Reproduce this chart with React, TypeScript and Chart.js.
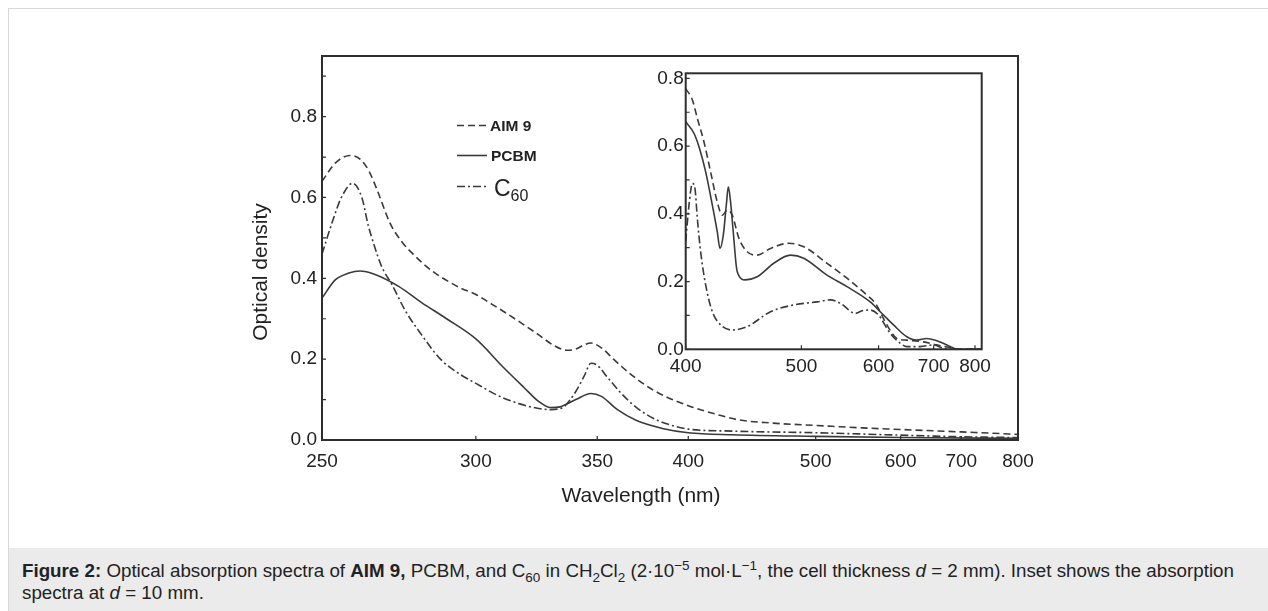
import React, { useEffect, useRef } from "react";
import { Chart, registerables } from "chart.js";
Chart.register(...registerables);

// ---------- Main plot data (wavelength in nm, optical density) ----------
const AIM9_NM = [254, 257.4, 261.3, 264, 266.5, 268.7, 272.5, 276, 280, 285, 290, 295, 300, 306, 312, 318, 324, 330, 336, 340, 344, 347, 352, 358, 365, 375, 385, 400, 420, 434, 460, 500, 550, 600, 700, 829];
const AIM9_OD = [0.64, 0.685, 0.704, 0.695, 0.665, 0.62, 0.536, 0.49, 0.455, 0.42, 0.395, 0.375, 0.36, 0.335, 0.31, 0.285, 0.26, 0.235, 0.222, 0.225, 0.236, 0.24, 0.228, 0.2, 0.17, 0.135, 0.11, 0.085, 0.062, 0.05, 0.042, 0.036, 0.03, 0.026, 0.02, 0.014];

const PCBM_NM = [254, 257.4, 261, 264, 268, 275, 282, 290, 300, 310, 318, 324, 329, 333, 340, 347, 352, 360, 370, 385, 400, 430, 500, 600, 829];
const PCBM_OD = [0.351, 0.396, 0.413, 0.418, 0.41, 0.38, 0.34, 0.3, 0.25, 0.18, 0.13, 0.095, 0.08, 0.082, 0.1, 0.115, 0.108, 0.075, 0.048, 0.028, 0.018, 0.013, 0.009, 0.006, 0.004];

const C60_NM = [254, 257, 259, 262, 264.5, 266.3, 268, 270, 273, 277, 282, 288, 294, 300, 308, 316, 324, 329, 334, 340, 344, 347, 350, 355, 362, 370, 380, 390, 400, 430, 500, 600, 700, 829];
const C60_OD = [0.46, 0.55, 0.6, 0.635, 0.6, 0.53, 0.48, 0.43, 0.385, 0.32, 0.26, 0.2, 0.165, 0.14, 0.11, 0.09, 0.078, 0.075, 0.08, 0.12, 0.16, 0.19, 0.185, 0.155, 0.115, 0.08, 0.052, 0.036, 0.027, 0.022, 0.018, 0.012, 0.008, 0.006];

const MAIN_X_RANGE_NM = [254, 829];
const MAIN_X_TICKS_NM = [300, 350, 400, 500, 600, 700];
const MAIN_X_EDGE_LABELS = ["250", "800"];
const MAIN_Y_MAX = 0.95;

// ---------- Inset data (d = 10 mm) ----------
const IN_AIM9_NM = [400, 404.7, 408.2, 413, 418, 423, 427, 431, 435, 440.5, 447.6, 456.4, 468.7, 486.7, 502.5, 529.3, 554.6, 582.5, 595, 613.3, 630, 647.5, 679, 706.7, 744, 760, 819];
const IN_AIM9_OD = [0.77, 0.736, 0.682, 0.613, 0.524, 0.436, 0.396, 0.411, 0.396, 0.328, 0.288, 0.278, 0.298, 0.313, 0.303, 0.254, 0.21, 0.16, 0.136, 0.072, 0.032, 0.027, 0.022, 0.013, 0.003, 0, 0];

const IN_PCBM_NM = [400, 405.8, 409.4, 414.3, 419.3, 423.1, 425.2, 427.8, 430.2, 431.8, 433.6, 435.8, 439.1, 446.1, 456.4, 471.8, 488.4, 502.5, 529.3, 554.6, 587.3, 602.6, 624.2, 647.5, 666, 685.8, 706.7, 729, 756, 819];
const IN_PCBM_OD = [0.672, 0.638, 0.598, 0.524, 0.426, 0.347, 0.298, 0.337, 0.426, 0.48, 0.436, 0.347, 0.229, 0.205, 0.214, 0.254, 0.278, 0.269, 0.219, 0.185, 0.14, 0.111, 0.072, 0.037, 0.027, 0.032, 0.025, 0.013, 0, 0];

const IN_C60_NM = [400, 402.3, 404.7, 406.5, 408.2, 410.6, 414.3, 419.3, 425.7, 435, 447.6, 468.7, 491.8, 517.5, 533.3, 545.9, 566, 575.3, 587.3, 600, 618.7, 635.6, 647.5, 672.5, 699.4, 721.2, 735, 819];
const IN_C60_OD = [0.318, 0.426, 0.49, 0.475, 0.387, 0.288, 0.19, 0.111, 0.072, 0.057, 0.067, 0.111, 0.131, 0.14, 0.146, 0.136, 0.106, 0.114, 0.116, 0.101, 0.047, 0.018, 0.008, 0.008, 0.013, 0.003, 0, 0];

const INSET_X_RANGE_NM = [400, 819];
const INSET_X_TICKS_NM = [400, 500, 600, 700, 800];
const INSET_Y_MAX = 0.815;

// ---------- Styling ----------
const SERIES_NAMES = ["AIM 9", "PCBM", "C60"];
const LINE_COLOR = "#3a3a3a";
const DASH = [7, 4];
const DASH_DOT = [8, 3, 2, 3];
const FONT = "'Liberation Sans', Arial, Helvetica, sans-serif";

const toU = (nm: number) => 1000 / nm;
const pts = (nm: number[], od: number[]) => nm.map((w, i) => ({ x: toU(w), y: od[i] }));

function makeDatasets(sets: { nm: number[]; od: number[] }[], width: number) {
  const dashes = [DASH, [], DASH_DOT];
  return sets.map((s, i) => ({
    label: SERIES_NAMES[i],
    data: pts(s.nm, s.od),
    borderColor: LINE_COLOR,
    borderWidth: width,
    borderDash: dashes[i],
    pointRadius: 0,
    cubicInterpolationMode: "monotone" as const,
    fill: false,
  }));
}

const yTicksEveryTenth = (max: number) => (s: any) => {
  const out = [];
  for (let k = 0; k / 10 <= max + 1e-9; k++) out.push({ value: k / 10 });
  s.ticks = out;
};

const frameAndTicks = {
  id: "frameAndTicks",
  afterDraw(chart: any) {
    const { ctx, chartArea: a, scales } = chart;
    const x = scales.x;
    const y = scales.y;
    ctx.save();
    ctx.strokeStyle = "#2e2e2e";
    ctx.lineWidth = 1.2;
    ctx.beginPath();
    for (const t of x.ticks) {
      const px = x.getPixelForValue(t.value);
      ctx.moveTo(px, a.bottom);
      ctx.lineTo(px, a.bottom - 4);
    }
    for (const t of y.ticks) {
      const py = y.getPixelForValue(t.value);
      ctx.moveTo(a.left, py);
      ctx.lineTo(a.left + 4, py);
    }
    ctx.stroke();
    ctx.lineWidth = 2;
    ctx.strokeRect(a.left, a.top, a.right - a.left, a.bottom - a.top);
    ctx.restore();
  },
};

const mainExtras = {
  id: "mainExtras",
  afterDraw(chart: any) {
    const { ctx } = chart;
    const ox = 200; // canvas left offset on page
    ctx.save();
    ctx.fillStyle = "#222";
    ctx.font = `21px ${FONT}`;
    ctx.textAlign = "center";
    ctx.textBaseline = "alphabetic";
    ctx.fillText("Wavelength (nm)", 641 - ox, 502);
    ctx.save();
    ctx.translate(267 - ox, 272);
    ctx.rotate(-Math.PI / 2);
    ctx.fillText("Optical density", 0, 0);
    ctx.restore();

    const rows = [
      { y: 125.5, dash: DASH },
      { y: 155.5, dash: [] as number[] },
      { y: 186.5, dash: DASH_DOT },
    ];
    ctx.strokeStyle = LINE_COLOR;
    ctx.lineWidth = 1.6;
    rows.forEach((r) => {
      ctx.setLineDash(r.dash);
      ctx.beginPath();
      ctx.moveTo(457 - ox, r.y);
      ctx.lineTo(487 - ox, r.y);
      ctx.stroke();
    });
    ctx.setLineDash([]);
    ctx.textAlign = "left";
    ctx.textBaseline = "alphabetic";
    ctx.font = `bold 15.5px ${FONT}`;
    ctx.fillText(SERIES_NAMES[0], 490 - ox, 131);
    ctx.fillText(SERIES_NAMES[1], 491 - ox, 161);
    ctx.font = `23px ${FONT}`;
    ctx.fillText("C", 494 - ox, 196);
    const cw = ctx.measureText("C").width;
    ctx.font = `16px ${FONT}`;
    ctx.fillText("60", 494 - ox + cw, 201);
    ctx.restore();
  },
};

function MainChart() {
  const ref = useRef<HTMLCanvasElement>(null);
  useEffect(() => {
    const uMin = toU(MAIN_X_RANGE_NM[1]);
    const uMax = toU(MAIN_X_RANGE_NM[0]);
    const tickU = [uMax, ...MAIN_X_TICKS_NM.map(toU), uMin];
    const chart = new Chart(ref.current!, {
      type: "line",
      data: {
        datasets: makeDatasets(
          [
            { nm: AIM9_NM, od: AIM9_OD },
            { nm: PCBM_NM, od: PCBM_OD },
            { nm: C60_NM, od: C60_OD },
          ],
          1.6
        ) as any,
      },
      options: {
        animation: false,
        responsive: false,
        layout: { padding: { left: 22, right: 42, top: 56, bottom: 40 } },
        plugins: { legend: { display: false }, tooltip: { enabled: false } },
        scales: {
          x: {
            type: "linear",
            reverse: true,
            min: uMin,
            max: uMax,
            grid: { display: false, drawTicks: false },
            border: { display: false },
            afterBuildTicks: (s: any) => {
              s.ticks = tickU.map((v) => ({ value: v }));
            },
            afterFit: (s: any) => {
              s.height = 60;
            },
            ticks: {
              autoSkip: false,
              maxRotation: 0,
              padding: 10,
              color: "#222",
              font: { family: FONT, size: 19 },
              callback: (v: any) => {
                if (Math.abs(v - uMax) < 1e-6) return MAIN_X_EDGE_LABELS[0];
                if (Math.abs(v - uMin) < 1e-6) return MAIN_X_EDGE_LABELS[1];
                return String(Math.round(1000 / v));
              },
            },
          },
          y: {
            type: "linear",
            min: 0,
            max: MAIN_Y_MAX,
            grid: { display: false, drawTicks: false },
            border: { display: false },
            afterBuildTicks: yTicksEveryTenth(MAIN_Y_MAX),
            afterFit: (s: any) => {
              s.width = 100;
            },
            ticks: {
              padding: 5,
              color: "#222",
              font: { family: FONT, size: 19 },
              callback: (v: any) => {
                const k = Math.round(v * 10);
                return k % 2 === 0 && k <= 8 ? (k / 10).toFixed(1) : "";
              },
            },
          },
        },
      },
      plugins: [frameAndTicks, mainExtras],
    });
    return () => chart.destroy();
  }, []);
  return (
    <canvas
      ref={ref}
      width={860}
      height={540}
      style={{ position: "absolute", left: 200, top: 0, width: 860, height: 540 }}
    />
  );
}

function InsetChart() {
  const ref = useRef<HTMLCanvasElement>(null);
  useEffect(() => {
    const uMin = toU(INSET_X_RANGE_NM[1]);
    const uMax = toU(INSET_X_RANGE_NM[0]);
    const tickU = INSET_X_TICKS_NM.map(toU);
    const chart = new Chart(ref.current!, {
      type: "line",
      data: {
        datasets: makeDatasets(
          [
            { nm: IN_AIM9_NM, od: IN_AIM9_OD },
            { nm: IN_PCBM_NM, od: IN_PCBM_OD },
            { nm: IN_C60_NM, od: IN_C60_OD },
          ],
          1.6
        ) as any,
      },
      options: {
        animation: false,
        responsive: false,
        layout: { padding: { left: 5.7, right: 18.3, top: 33.3, bottom: 10.7 } },
        plugins: { legend: { display: false }, tooltip: { enabled: false } },
        scales: {
          x: {
            type: "linear",
            reverse: true,
            min: uMin,
            max: uMax,
            grid: { display: false, drawTicks: false },
            border: { display: false },
            afterBuildTicks: (s: any) => {
              s.ticks = tickU.map((v) => ({ value: v }));
            },
            afterFit: (s: any) => {
              s.height = 30;
            },
            ticks: {
              autoSkip: false,
              maxRotation: 0,
              padding: 6,
              color: "#222",
              font: { family: FONT, size: 19 },
              callback: (v: any) => String(Math.round(1000 / v)),
            },
          },
          y: {
            type: "linear",
            min: 0,
            max: INSET_Y_MAX,
            grid: { display: false, drawTicks: false },
            border: { display: false },
            afterBuildTicks: yTicksEveryTenth(INSET_Y_MAX),
            afterFit: (s: any) => {
              s.width = 60;
            },
            ticks: {
              padding: 2,
              color: "#222",
              font: { family: FONT, size: 19 },
              callback: (v: any) => {
                const k = Math.round(v * 10);
                return k % 2 === 0 ? (k / 10).toFixed(1) : "";
              },
            },
          },
        },
      },
      plugins: [frameAndTicks],
    });
    return () => chart.destroy();
  }, []);
  return (
    <canvas
      ref={ref}
      width={380}
      height={350}
      style={{ position: "absolute", left: 620, top: 40, width: 380, height: 350 }}
    />
  );
}

const SUB = { fontSize: "0.72em", lineHeight: 0 } as const;

export default function App() {
  return (
    <div style={{ position: "absolute", left: 0, top: 0, width: 1268, height: 611, overflow: "hidden", background: "#fff" }}>
      <style>{`html,body{overflow:hidden;margin:0}`}</style>
      <div
        style={{
          position: "absolute",
          left: 8,
          top: 8,
          width: 1270,
          height: 620,
          borderTop: "1px solid #d8d8d8",
          borderLeft: "1px solid #d8d8d8",
        }}
      />
      <MainChart />
      <InsetChart />
      <div
        style={{
          position: "absolute",
          left: 9,
          top: 548,
          width: 1259,
          height: 63,
          background: "#ebebeb",
          boxSizing: "border-box",
          padding: "12px 0 0 13px",
          fontFamily: FONT,
          fontSize: 18.75,
          lineHeight: "22px",
          color: "#222",
          whiteSpace: "nowrap",
        }}
      >
        <b>Figure 2:</b> Optical absorption spectra of <b>AIM 9,</b> PCBM, and C<sub style={SUB}>60</sub> in CH
        <sub style={SUB}>2</sub>Cl<sub style={SUB}>2</sub> (2·10<sup style={SUB}>−5</sup> mol·L<sup style={SUB}>−1</sup>, the cell
        thickness <i>d</i> = 2 mm). Inset shows the absorption
        <br />
        spectra at <i>d</i> = 10 mm.
      </div>
    </div>
  );
}
